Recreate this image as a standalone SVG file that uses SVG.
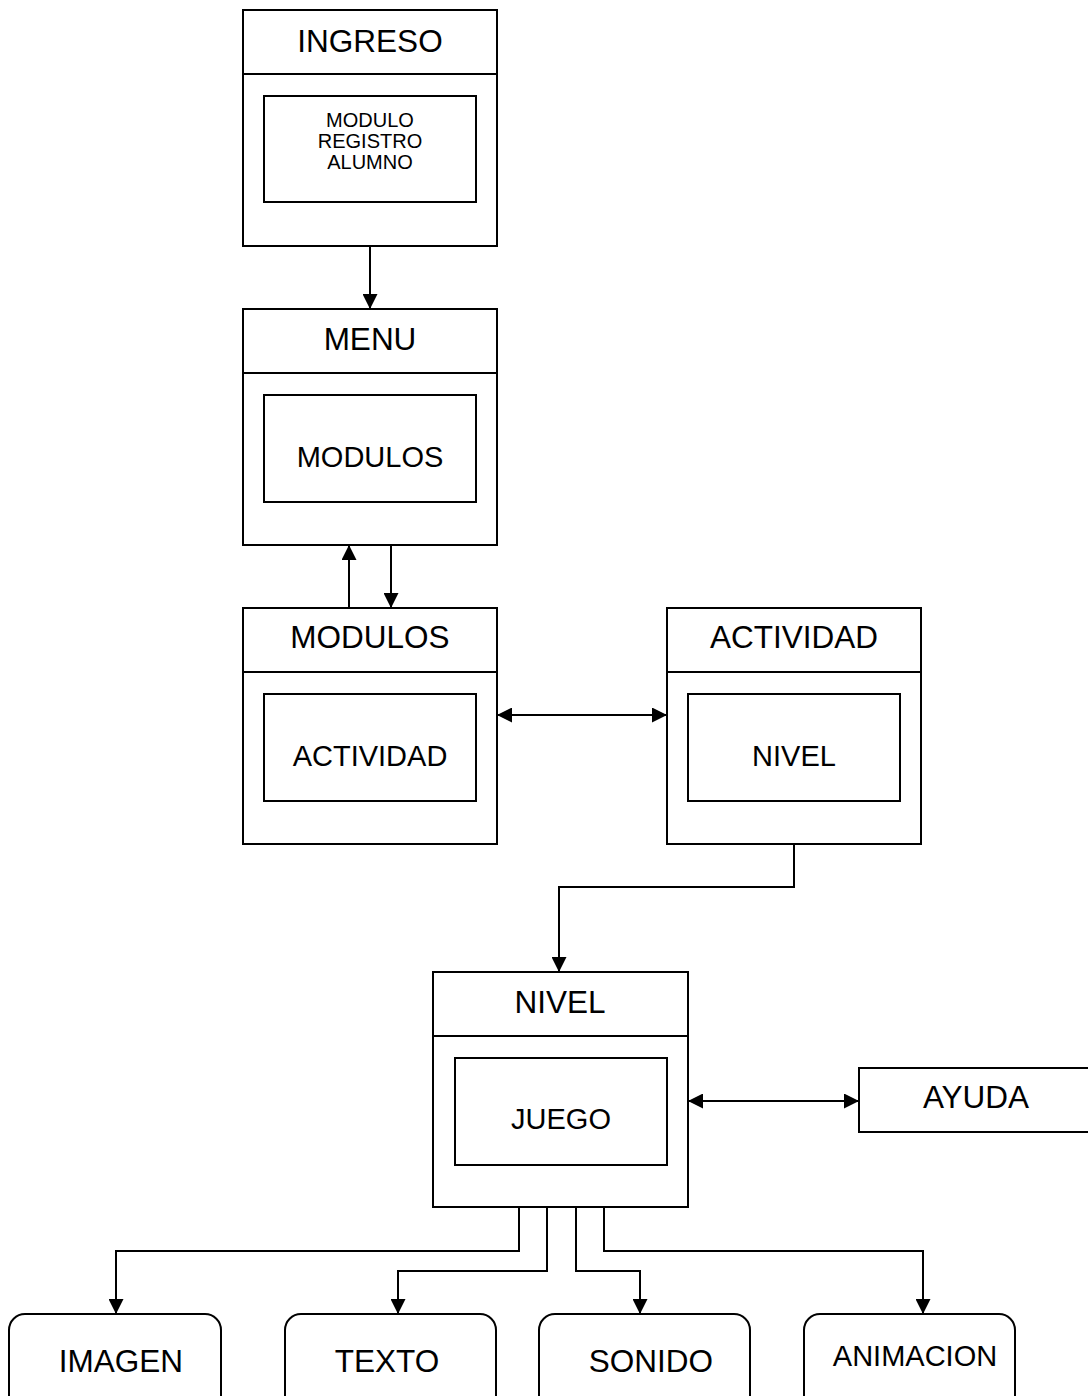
<svg xmlns="http://www.w3.org/2000/svg" width="1088" height="1396" viewBox="0 0 1088 1396">
<style>
.box{fill:#fff;stroke:#000;stroke-width:2}
.inner{fill:#fff;stroke:#000;stroke-width:2}
.div{stroke:#000;stroke-width:2;fill:none}
.hdr{font-family:"Liberation Sans",Arial,sans-serif;font-size:31.5px;text-anchor:middle;fill:#000}
.lbl{font-family:"Liberation Sans",Arial,sans-serif;font-size:29px;text-anchor:middle;fill:#000}
.sm{font-family:"Liberation Sans",Arial,sans-serif;font-size:20px;text-anchor:middle;fill:#000}
.con{fill:none;stroke:#000;stroke-width:2}
</style>
<defs>
<marker id="ah" markerWidth="15" markerHeight="15" refX="15" refY="7.5" orient="auto-start-reverse" markerUnits="userSpaceOnUse">
<path d="M0,0 L15,7.5 L0,15 Z" fill="#000"/>
</marker>
</defs>
<rect width="1088" height="1396" fill="#fff"/>
<g id="connectors">
<path class="con" d="M370,246 V309" marker-end="url(#ah)"/>
<path class="con" d="M349,608 V545" marker-end="url(#ah)"/>
<path class="con" d="M391,545 V608" marker-end="url(#ah)"/>
<path class="con" d="M497,715 H667" marker-start="url(#ah)" marker-end="url(#ah)"/>
<path class="con" d="M794,844 V887 H559 V972" marker-end="url(#ah)"/>
<path class="con" d="M688,1101 H859" marker-start="url(#ah)" marker-end="url(#ah)"/>
<path class="con" d="M519,1207 V1251 H116 V1314" marker-end="url(#ah)"/>
<path class="con" d="M547,1207 V1271 H398 V1314" marker-end="url(#ah)"/>
<path class="con" d="M576,1207 V1271 H640 V1314" marker-end="url(#ah)"/>
<path class="con" d="M604,1207 V1251 H923 V1314" marker-end="url(#ah)"/>
</g>
<g id="ingreso">
<rect class="box" x="243" y="10" width="254" height="236"/>
<line class="div" x1="243" y1="74" x2="497" y2="74"/>
<text class="hdr" x="370" y="52">INGRESO</text>
<rect class="inner" x="264" y="96" width="212" height="106"/>
<text class="sm" x="370" y="127">MODULO</text>
<text class="sm" x="370" y="148">REGISTRO</text>
<text class="sm" x="370" y="169">ALUMNO</text>
</g>
<g id="menu">
<rect class="box" x="243" y="309" width="254" height="236"/>
<line class="div" x1="243" y1="373" x2="497" y2="373"/>
<text class="hdr" x="370" y="350">MENU</text>
<rect class="inner" x="264" y="395" width="212" height="107"/>
<text class="lbl" x="370" y="467">MODULOS</text>
</g>
<g id="modulos">
<rect class="box" x="243" y="608" width="254" height="236"/>
<line class="div" x1="243" y1="672" x2="497" y2="672"/>
<text class="hdr" x="370" y="648">MODULOS</text>
<rect class="inner" x="264" y="694" width="212" height="107"/>
<text class="lbl" x="370" y="766">ACTIVIDAD</text>
</g>
<g id="actividad">
<rect class="box" x="667" y="608" width="254" height="236"/>
<line class="div" x1="667" y1="672" x2="921" y2="672"/>
<text class="hdr" x="794" y="648">ACTIVIDAD</text>
<rect class="inner" x="688" y="694" width="212" height="107"/>
<text class="lbl" x="794" y="766">NIVEL</text>
</g>
<g id="nivel">
<rect class="box" x="433" y="972" width="255" height="235"/>
<line class="div" x1="433" y1="1036" x2="688" y2="1036"/>
<text class="hdr" x="560" y="1013">NIVEL</text>
<rect class="inner" x="455" y="1058" width="212" height="107"/>
<text class="lbl" x="561" y="1129">JUEGO</text>
</g>
<g id="ayuda">
<rect class="box" x="859" y="1068" width="240" height="64"/>
<text class="hdr" x="976" y="1108">AYUDA</text>
</g>
<g id="imagen">
<rect class="box" x="9" y="1314" width="212" height="100" rx="16"/>
<text class="hdr" x="121" y="1372">IMAGEN</text>
</g>
<g id="texto">
<rect class="box" x="285" y="1314" width="211" height="100" rx="16"/>
<text class="hdr" x="387" y="1372">TEXTO</text>
</g>
<g id="sonido">
<rect class="box" x="539" y="1314" width="211" height="100" rx="16"/>
<text class="hdr" x="651" y="1372">SONIDO</text>
</g>
<g id="animacion">
<rect class="box" x="804" y="1314" width="211" height="100" rx="16"/>
<text class="lbl" x="915" y="1366">ANIMACION</text>
</g>
</svg>
